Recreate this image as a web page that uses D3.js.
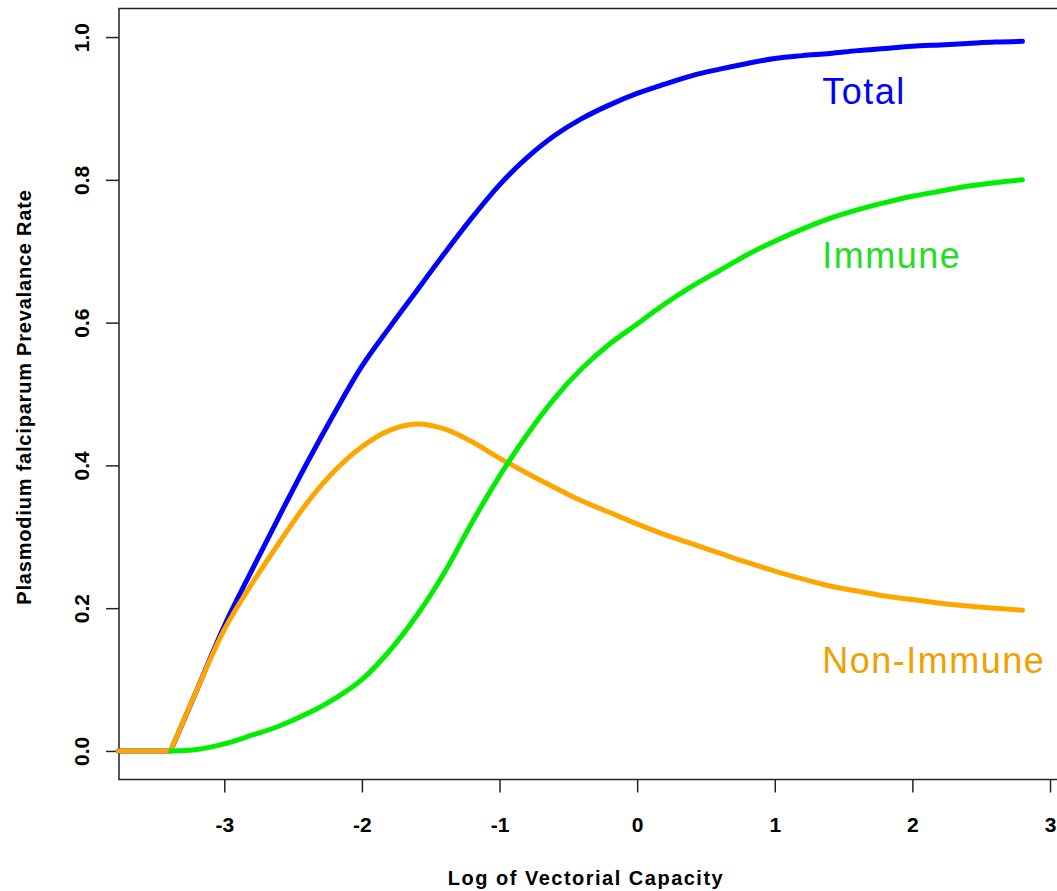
<!DOCTYPE html>
<html>
<head>
<meta charset="utf-8">
<script src="https://cdn.jsdelivr.net/npm/d3@7"></script>
<style>
  body { margin: 0; background: #fff; }
  svg { display: block; font-family: "Liberation Sans", Arial, sans-serif; }
</style>
</head>
<body>
<div class="chart"></div>
<script>
// log of vectorial capacity (x grid)
var logVC = [-3.77, -3.39, -3.2, -3.0, -2.8, -2.6, -2.4, -2.2, -2.0, -1.8, -1.6, -1.4, -1.2,
  -1.0, -0.8, -0.6, -0.4, -0.2, 0, 0.2, 0.4, 0.6, 0.8, 1.0, 1.2, 1.4, 1.6, 1.8, 2.0,
  2.2, 2.4, 2.6, 2.8];

var total = [0, 0, 0.085, 0.175, 0.253, 0.329, 0.403, 0.473, 0.539, 0.593, 0.645, 0.697, 0.747,
  0.793, 0.831, 0.862, 0.886, 0.905, 0.921, 0.934, 0.946, 0.955, 0.963, 0.970, 0.974,
  0.977, 0.981, 0.984, 0.987, 0.989, 0.991, 0.993, 0.994];

var immune = [null, 0, 0.002, 0.010, 0.022, 0.035, 0.052, 0.073, 0.100, 0.140, 0.190, 0.250, 0.320,
  0.385, 0.443, 0.494, 0.536, 0.570, 0.598, 0.626, 0.651, 0.673, 0.695, 0.714, 0.731,
  0.746, 0.758, 0.768, 0.777, 0.784, 0.791, 0.796, 0.800];

var nonImmune = [0, 0, 0.085, 0.170, 0.234, 0.292, 0.347, 0.392, 0.426, 0.449, 0.458, 0.451, 0.433,
  0.410, 0.389, 0.369, 0.350, 0.334, 0.318, 0.303, 0.290, 0.277, 0.264, 0.252, 0.241,
  0.231, 0.224, 0.217, 0.212, 0.207, 0.203, 0.200, 0.197];

var seriesNames = ['Total', 'Non-Immune', 'Immune'];
var seriesColors = ['#0000ff', '#ffa500', '#00ee00'];
var labelColors = ['#0000ff', '#f0a000', '#22dd22'];
// label anchor positions in data units (x, y of baseline)
var labelX = [1.345, 1.345, 1.345];
var labelY = [0.906, 0.109, 0.676];

var xTicks = [-3, -2, -1, 0, 1, 2, 3];
var yTicks = [0, 0.2, 0.4, 0.6, 0.8, 1.0];
var kinkIndex = 1;

var width = 1057, height = 891;
var padLeft = 119, padRight = 1058, padTop = 8.5, padBottom = 779.5;

var svg = d3.select('.chart').append('svg')
  .attr('width', width)
  .attr('height', height);

var x = d3.scaleLinear().domain([-3.765, 3.058]).range([padLeft, padRight]);
var y = d3.scaleLinear().domain([-0.04, 1.04]).range([padBottom, padTop]);

// x axis
var xAxis = svg.append('g')
  .attr('transform', 'translate(0,' + padBottom + ')')
  .call(d3.axisBottom(x).tickValues(xTicks).tickSize(13)
    .tickFormat(function(d) { return String(d); }));
xAxis.select('.domain').remove();
xAxis.selectAll('line').attr('stroke', '#222').attr('stroke-width', 1.5);
xAxis.selectAll('text')
  .attr('y', 52).attr('dy', 0)
  .attr('fill', '#000')
  .style('font-size', '21px').style('font-weight', 'bold');

// y axis, labels rotated as in R
var yAxis = svg.append('g')
  .attr('transform', 'translate(' + padLeft + ',0)')
  .call(d3.axisLeft(y).tickValues(yTicks).tickSize(13).tickFormat(d3.format('.1f')));
yAxis.select('.domain').remove();
yAxis.selectAll('line').attr('stroke', '#222').attr('stroke-width', 1.5);
yAxis.selectAll('text')
  .attr('x', 0).attr('y', -30).attr('dy', 0)
  .attr('transform', 'rotate(-90)')
  .attr('text-anchor', 'middle')
  .attr('fill', '#000')
  .style('font-size', '21px').style('font-weight', 'bold');

// plot box (right side falls just outside the picture)
svg.append('rect')
  .attr('x', padLeft).attr('y', padTop)
  .attr('width', padRight - padLeft).attr('height', padBottom - padTop)
  .attr('fill', 'none')
  .attr('stroke', '#222')
  .attr('stroke-width', 1.5);

var lineLinear = d3.line()
  .defined(function(d) { return d[1] !== null; })
  .x(function(d) { return x(d[0]); })
  .y(function(d) { return y(d[1]); });
var lineSmooth = d3.line()
  .x(function(d) { return x(d[0]); })
  .y(function(d) { return y(d[1]); })
  .curve(d3.curveCatmullRom.alpha(0.5));

// flat part stays straight so the kink keeps its corner
function pathFor(values) {
  var pts = logVC.map(function(v, i) { return [v, values[i]]; });
  var flat = pts.slice(0, kinkIndex + 1).filter(function(p) { return p[1] !== null; });
  var rise = pts.slice(kinkIndex);
  var d = lineSmooth(rise);
  if (flat.length > 1) d = lineLinear(flat) + d;
  return d;
}

var allSeries = [total, nonImmune, immune];

svg.append('g').attr('class', 'lines')
  .selectAll('path')
  .data(allSeries)
  .enter().append('path')
    .attr('d', pathFor)
    .attr('fill', 'none')
    .attr('stroke', function(d, i) { return seriesColors[i]; })
    .attr('stroke-width', 5)
    .attr('stroke-linecap', 'round')
    .attr('stroke-linejoin', 'round');

svg.append('g').attr('class', 'labels')
  .selectAll('text')
  .data(seriesNames)
  .enter().append('text')
    .attr('x', function(d, i) { return x(labelX[i]); })
    .attr('y', function(d, i) { return y(labelY[i]); })
    .attr('fill', function(d, i) { return labelColors[i]; })
    .style('font-size', '36px')
    .style('letter-spacing', '1.5px')
    .text(function(d) { return d; });

// axis titles
svg.append('text')
  .attr('x', 586).attr('y', 885)
  .attr('text-anchor', 'middle')
  .style('font-size', '20px').style('font-weight', 'bold')
  .style('letter-spacing', '1.5px')
  .text('Log of Vectorial Capacity');

svg.append('text')
  .attr('transform', 'translate(31,397) rotate(-90)')
  .attr('text-anchor', 'middle')
  .style('font-size', '20px').style('font-weight', 'bold')
  .style('letter-spacing', '0.8px')
  .text('Plasmodium falciparum Prevalance Rate');
</script>
</body>
</html>
